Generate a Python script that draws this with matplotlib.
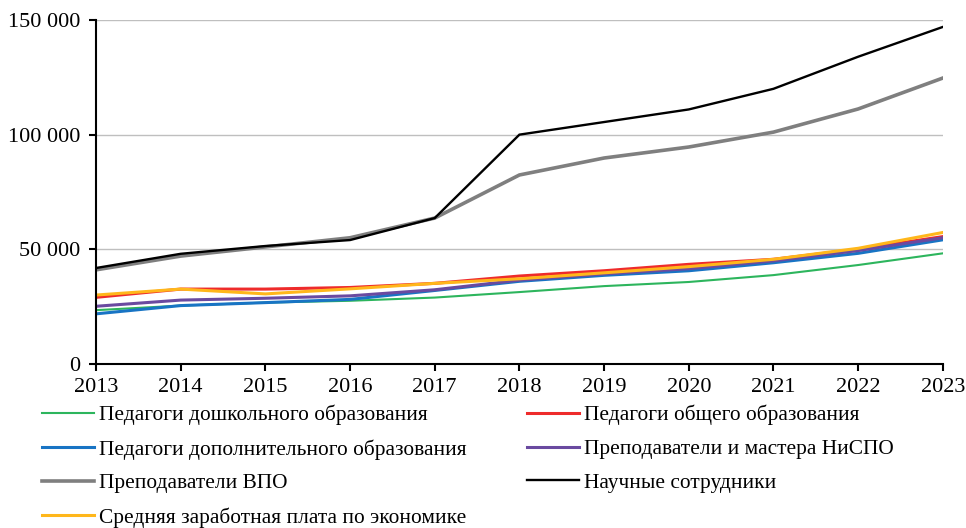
import numpy as np
import matplotlib.pyplot as plt
from matplotlib.ticker import FuncFormatter

FONTSIZE = 16
LEGEND_FONTSIZE = 15.4

plt.rcParams.update({
    "font.family": "serif",
    "font.serif": ["Liberation Serif", "DejaVu Serif"],
    "font.size": FONTSIZE,
    "axes.linewidth": 1.5,
})

years = list(range(2013, 2024))

labels = [
    "Педагоги дошкольного образования",
    "Педагоги общего образования",
    "Педагоги дополнительного образования",
    "Преподаватели и мастера НиСПО",
    "Преподаватели ВПО",
    "Научные сотрудники",
    "Средняя заработная плата по экономике",
]

preschool = [23400, 25400, 26700, 27500, 28900, 31300, 33900, 35700, 38700, 43100, 48200]
general = [29000, 32600, 32600, 33300, 35100, 38300, 40600, 43400, 45600, 50000, 55500]
additional = [21800, 25400, 26700, 28100, 32000, 36000, 38600, 40600, 44100, 48200, 54100]
vocational = [25100, 27800, 28600, 29650, 32300, 36500, 39200, 41500, 44900, 49400, 55000]
university = [41000, 47000, 51000, 55000, 63600, 82400, 89800, 94600, 101100, 111200, 124700]
research = [41800, 48000, 51400, 54000, 63600, 100000, 105500, 111000, 120000, 134000, 147000]
economy = [30000, 32600, 30500, 32700, 35100, 37100, 39700, 42400, 45600, 50400, 57300]

series = [preschool, general, additional, vocational, university, research, economy]
colors = ["#2DB55D", "#EE2B2B", "#1874C4", "#6A4AA0", "#7F7F7F", "#000000", "#FFB71B"]
widths = [1.5, 2.2, 2.2, 2.2, 2.6, 1.7, 2.2]

fig, ax = plt.subplots(figsize=(9.66, 5.28), dpi=100)
fig.subplots_adjust(left=0.0994, right=0.976, top=0.962, bottom=0.311)

lines = []
for vals, lab, c, w in zip(series, labels, colors, widths):
    ln, = ax.plot(years, vals, color=c, lw=w, label=lab, solid_joinstyle="miter")
    lines.append(ln)

ax.set_xlim(2013, 2023)
ax.set_ylim(0, 150000)
ax.set_xticks(years)
ax.set_yticks([0, 50000, 100000, 150000])
ax.yaxis.set_major_formatter(FuncFormatter(lambda v, p: f"{int(v):,}".replace(",", " ")))
ax.grid(axis="y", color="#BFBFBF", lw=1)
ax.set_axisbelow(True)
for s in ["top", "right"]:
    ax.spines[s].set_visible(False)
ax.tick_params(axis="both", direction="out", length=5, width=1.5, labelsize=FONTSIZE)
ax.tick_params(axis="x", pad=5)
ax.tick_params(axis="y", pad=6)

# legend fills column-wise, so reorder to get the row layout of the original
order = [0, 2, 4, 6, 1, 3, 5]
ax.legend([lines[i] for i in order], [labels[i] for i in order],
          ncol=2, frameon=False, loc="upper left",
          bbox_to_anchor=(0.0435, 0.233), bbox_transform=fig.transFigure,
          handlelength=2.45, handletextpad=0.23, columnspacing=2.8,
          labelspacing=0.64, borderaxespad=0, borderpad=0, fontsize=LEGEND_FONTSIZE)

fig.savefig("out.png", dpi=100)
